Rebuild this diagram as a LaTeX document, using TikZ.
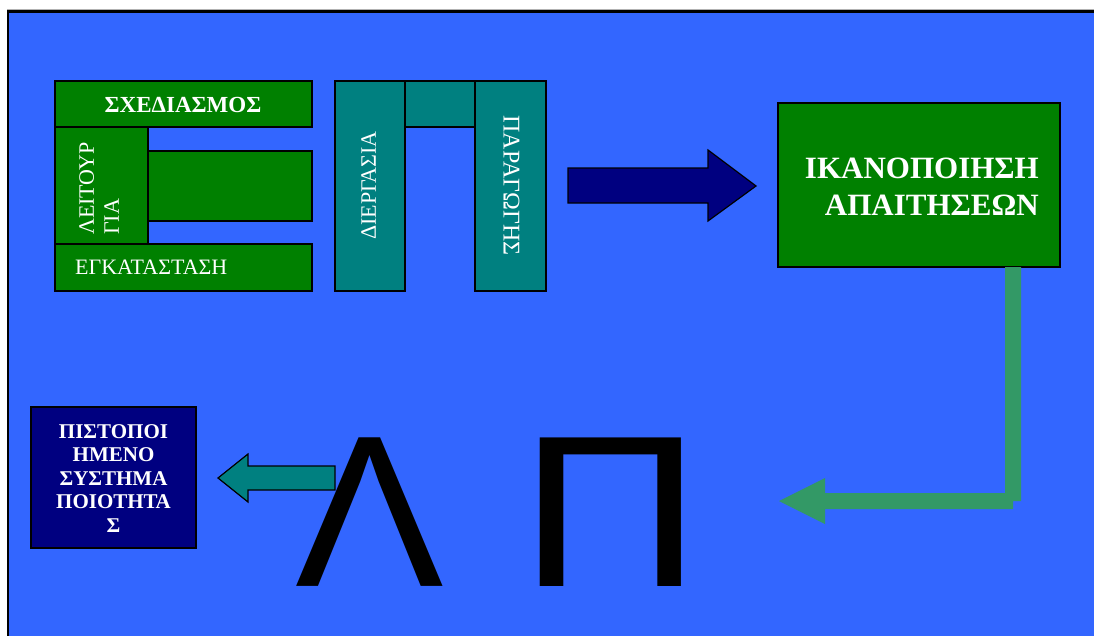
\documentclass[tikz,border=0pt]{standalone}
\usepackage{fontspec}
\setmainfont{Liberation Serif}
\newfontfamily\arialf{Liberation Sans}
\definecolor{bgblue}{HTML}{3366FF}
\definecolor{dgreen}{HTML}{008000}
\definecolor{dteal}{HTML}{008080}
\definecolor{dnavy}{HTML}{000080}
\definecolor{sgreen}{HTML}{339966}
\begin{document}
\begin{tikzpicture}[x=1pt,y=-1pt,
  gbox/.style={draw=black,line width=1.2pt,fill=dgreen,inner sep=0pt},
  tbox/.style={draw=black,line width=1.2pt,fill=dteal,inner sep=0pt},
  nbox/.style={draw=black,line width=1.2pt,fill=dnavy,inner sep=0pt},
  txt/.style={text=white,inner sep=0pt},
  rtxt/.style={txt,font=\fontsize{22}{25}\selectfont},
  btxt/.style={txt,font=\bfseries\fontsize{23}{25}\selectfont},
  bigl/.style={inner sep=0pt,anchor=base,font=\arialf\fontsize{216}{216}\selectfont}]
\useasboundingbox (0,0) rectangle (1094,635);
\fill[white] (0,0) rectangle (1094,635);
\draw[gray!60,line width=1pt] (7,9) -- (1094,9);
\filldraw[fill=bgblue,draw=black,line width=2.5pt] (8,11.5) rectangle (1110,650);
% left green group
\node[gbox,minimum width=257pt,minimum height=46pt] (sxed) at (183.5,104) {};
\node[btxt,anchor=base] (sxedt) at (183,112) {ΣΧΕΔΙΑΣΜΟΣ};
\node[gbox,minimum width=93pt,minimum height=117pt] (leit) at (101.5,185.5) {};
\node[gbox,minimum width=164pt,minimum height=70pt] (mid) at (230,186) {};
\node[rtxt,rotate=90,align=left] (leitt) at (99,188.5) {ΛΕΙΤΟΥΡ\\ΓΙΑ};
\node[gbox,minimum width=257pt,minimum height=47pt] (egk) at (183.5,267.5) {};
\node[rtxt,anchor=base west] (egkt) at (75,274) {ΕΓΚΑΤΑΣΤΑΣΗ};
% teal Pi group
\node[tbox,minimum width=70pt,minimum height=210pt] (dierg) at (370,186) {};
\node[tbox,minimum width=70pt,minimum height=46pt] (topbar) at (440,104) {};
\node[tbox,minimum width=71pt,minimum height=210pt] (parag) at (510.5,186) {};
\node[rtxt,rotate=90] (diergt) at (368.5,185.5) {ΔΙΕΡΓΑΣΙΑ};
\node[txt,font=\fontsize{24}{25}\selectfont,rotate=-90] (paragt) at (511.5,185.5) {ΠΑΡΑΓΩΓΗΣ};
% navy arrow
\filldraw[fill=dnavy,draw=black,line width=1.2pt]
  (568,168) -- (708,168) -- (708,150) -- (756,186) -- (708,221) -- (708,203) -- (568,203) -- cycle;
% result box
\node[gbox,minimum width=282pt,minimum height=164pt] (ikan) at (919,185) {};
\node[txt,font=\bfseries\fontsize{31}{37}\selectfont,anchor=base east] (ikant1) at (1039,178) {ΙΚΑΝΟΠΟΙΗΣΗ};
\node[txt,font=\bfseries\fontsize{31}{37}\selectfont,anchor=base east] (ikant2) at (1039,215) {ΑΠΑΙΤΗΣΕΩΝ};
% green L arrow
\fill[sgreen] (1005,267) -- (1021,267) -- (1021,501) -- (1013,501) -- (1013,509) -- (825,509)
  -- (825,524) -- (779,501) -- (825,478) -- (825,493) -- (1005,493) -- cycle;
% big letters
\node[bigl,xscale=1.03] (lam) at (370,586) {Λ};
\node[bigl,xscale=1.17] (pi) at (611,586) {Π};
% teal arrow left
\filldraw[fill=dteal,draw=black,line width=1.2pt]
  (335,466) -- (248,466) -- (248,454) -- (218,478) -- (248,502) -- (248,490) -- (335,490) -- cycle;
% navy box
\node[nbox,minimum width=165pt,minimum height=141pt] (pist) at (113.5,477.5) {};
\node[txt,font=\bfseries\fontsize{21}{23.5}\selectfont,align=center,anchor=base] (pistt) at (113.5,532)
  {ΠΙΣΤΟΠΟΙ\\ΗΜΕΝΟ\\ΣΥΣΤΗΜΑ\\ΠΟΙΟΤΗΤΑ\\Σ};
\end{tikzpicture}
\end{document}
